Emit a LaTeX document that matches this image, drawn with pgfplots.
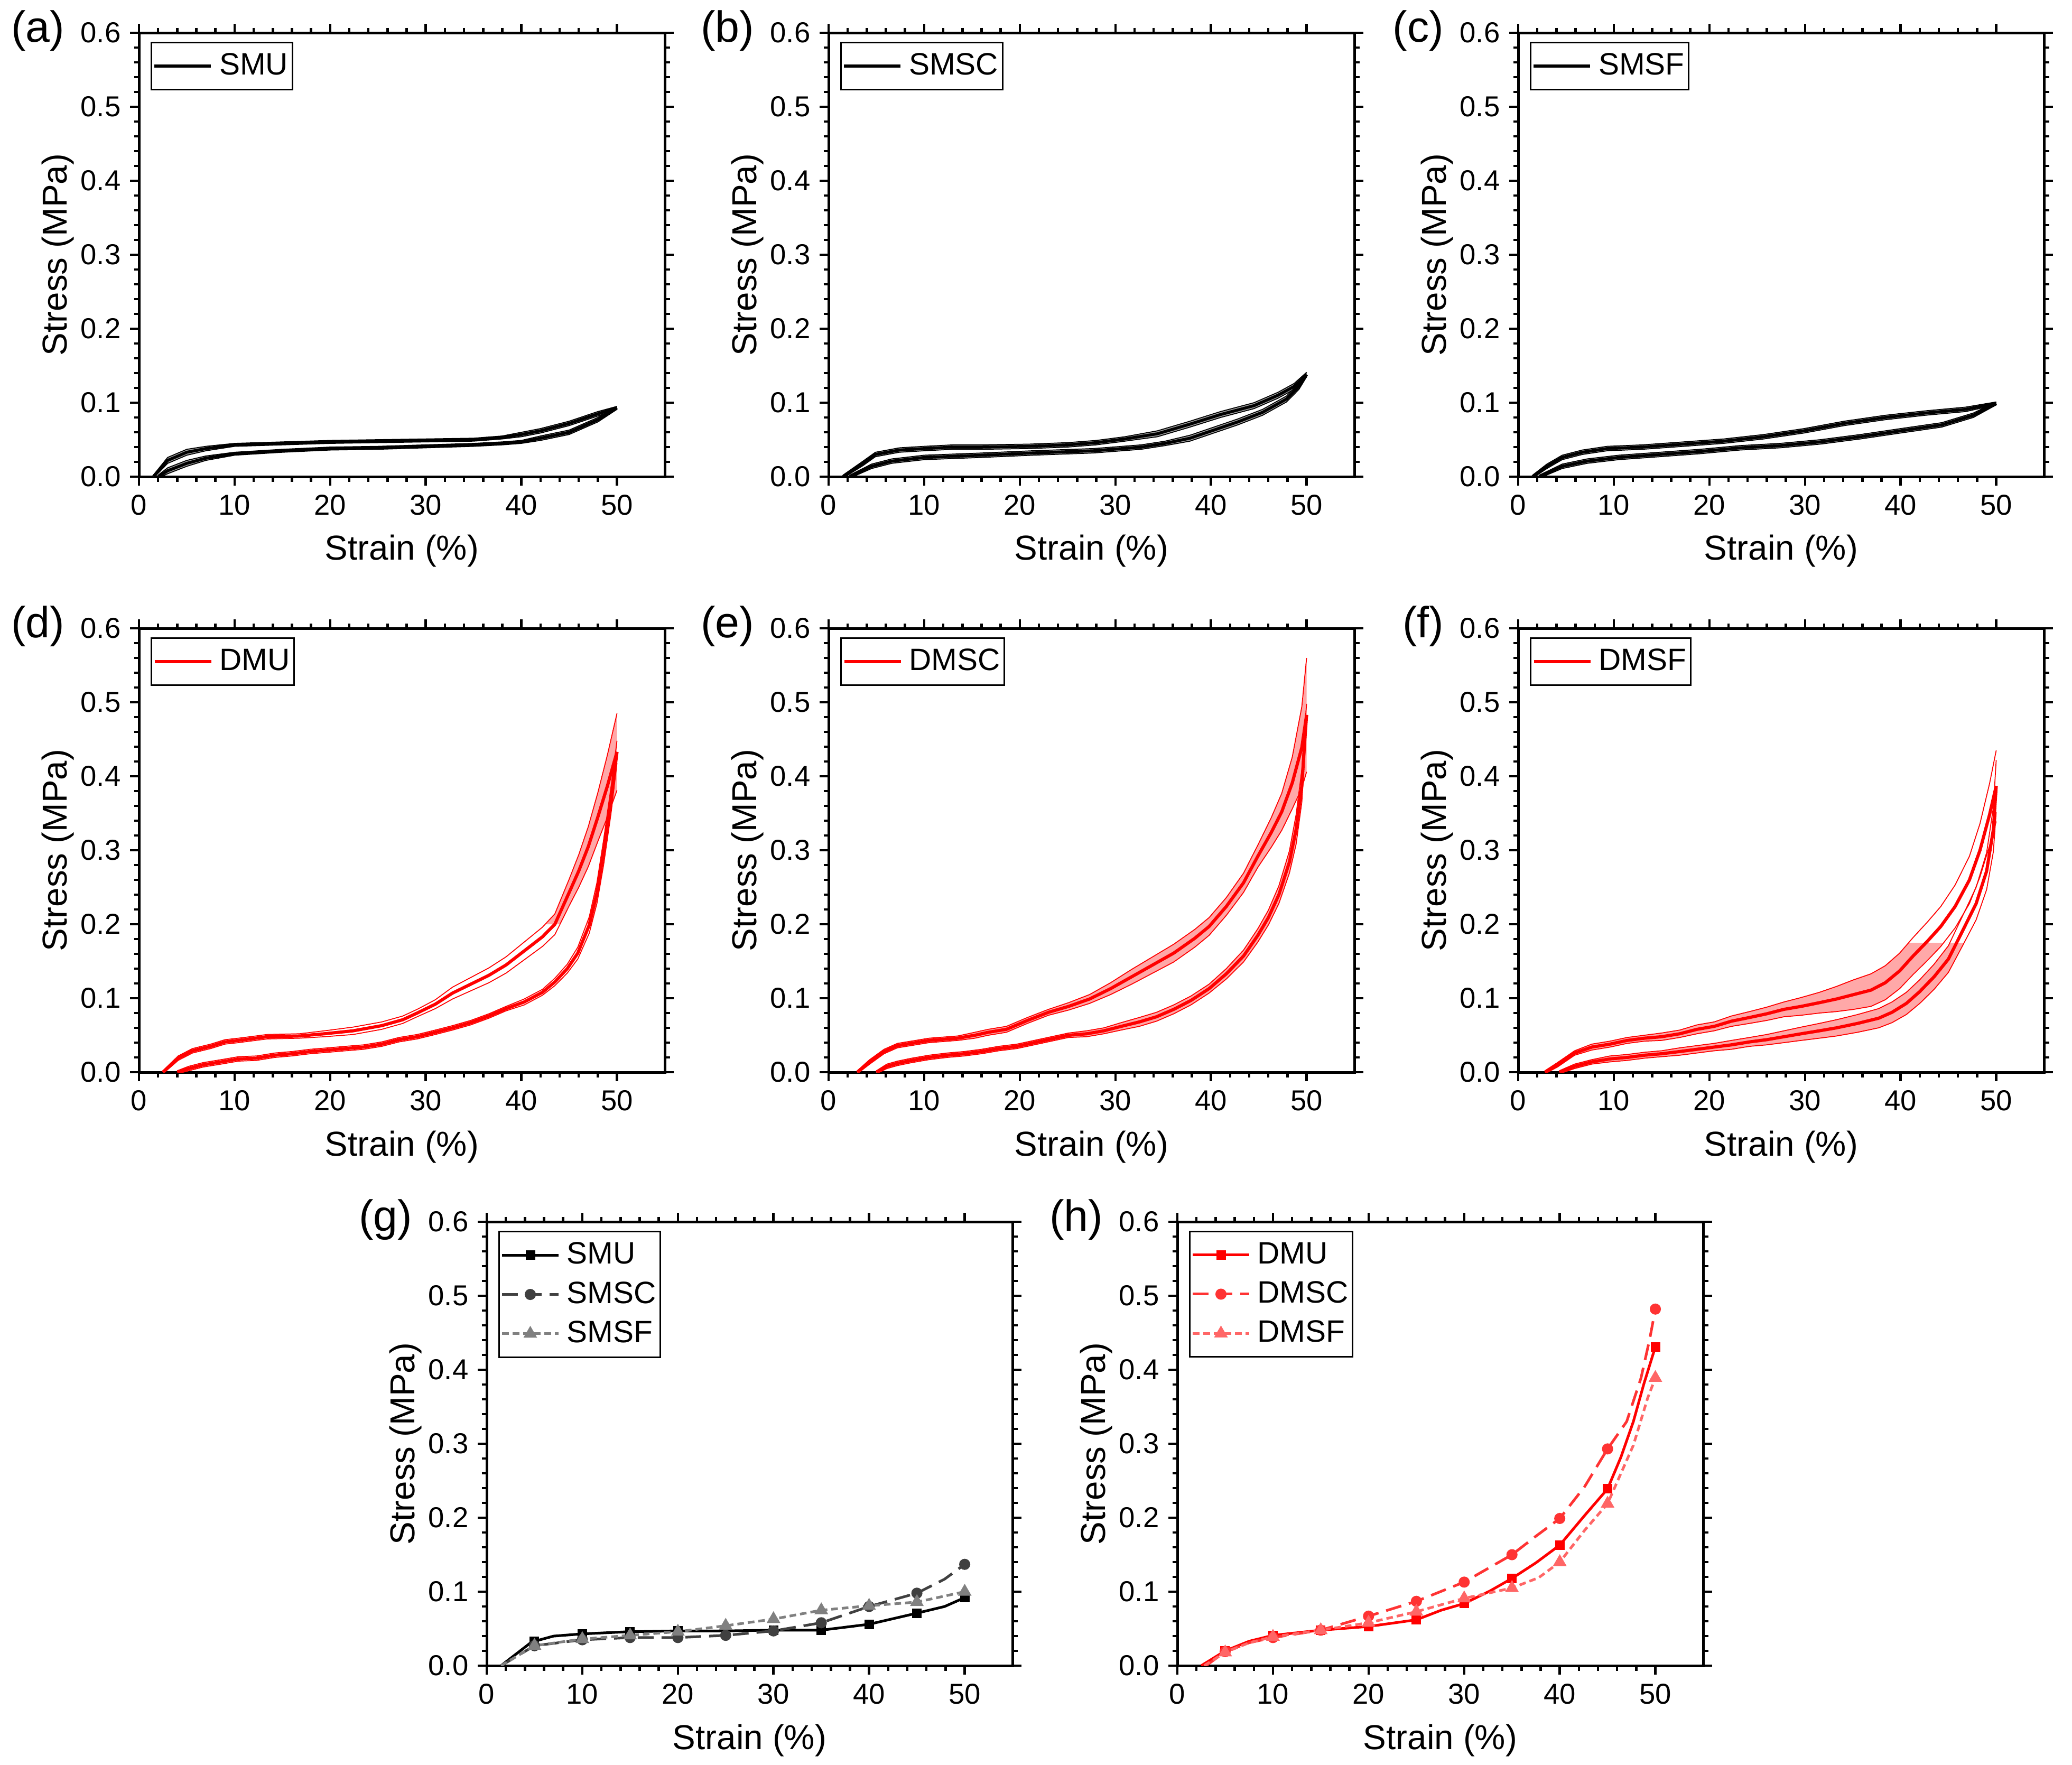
\documentclass[border=0pt]{standalone}
\usepackage{fontspec}
\setmainfont{Liberation Sans}
\usepackage{pgfplots}
\pgfplotsset{compat=1.18}
\usepackage{pgfplotstable}
\usepgfplotslibrary{fillbetween}

\definecolor{bandred}{RGB}{255,168,168}
\definecolor{bandgray}{RGB}{160,160,160}
\definecolor{scgray}{RGB}{64,64,64}
\definecolor{sfgray}{RGB}{128,128,128}
\definecolor{scred}{RGB}{255,51,51}
\definecolor{sfred}{RGB}{255,102,102}

% ---------------- data (x = strain %, m = mean stress MPa, s = band half-width) ----------
\pgfplotstableread{
x m s
1.5 0.000 0.002
3 0.022 0.004
5 0.033 0.004
7 0.038 0.003
10 0.043 0.002
15 0.045 0.002
20 0.047 0.002
25 0.048 0.002
30 0.049 0.002
35 0.050 0.002
38 0.053 0.002
40 0.057 0.003
42 0.062 0.003
45 0.072 0.003
48 0.085 0.003
50 0.093 0.002
}\aLoad
\pgfplotstableread{
x m s
2.0 0.000 0.002
3 0.008 0.004
5 0.018 0.004
7 0.025 0.003
10 0.031 0.002
15 0.035 0.002
20 0.038 0.002
25 0.039 0.002
30 0.041 0.002
35 0.043 0.002
38 0.045 0.002
40 0.047 0.002
42 0.052 0.003
45 0.060 0.003
48 0.077 0.003
50 0.093 0.002
}\aUnload
\pgfplotstableread{
x m s
1.5 0.000 0.002
3.6 0.018 0.003
4.9 0.030 0.003
7.4 0.036 0.003
10 0.038 0.003
13 0.040 0.003
16 0.040 0.003
21 0.041 0.003
25 0.043 0.003
28 0.046 0.003
31 0.051 0.003
34.4 0.058 0.004
37.8 0.071 0.004
41 0.084 0.004
44.5 0.096 0.004
47 0.110 0.004
48.7 0.122 0.004
50 0.138 0.003
}\bLoad
\pgfplotstableread{
x m s
2.2 0.000 0.002
4.5 0.014 0.003
6.6 0.021 0.003
10 0.026 0.003
16 0.029 0.003
21.3 0.032 0.003
27.7 0.035 0.003
32.7 0.040 0.003
35.2 0.045 0.003
37.8 0.052 0.004
40.3 0.063 0.004
42.8 0.074 0.004
45.4 0.087 0.004
47.9 0.105 0.004
49.2 0.122 0.004
50 0.138 0.003
}\bUnload
\pgfplotstableread{
x m s
1.5 0.000 0.002
3 0.014 0.003
4.6 0.026 0.003
6.7 0.033 0.003
9.3 0.038 0.003
13 0.040 0.003
17.3 0.044 0.003
21.5 0.048 0.003
25.7 0.054 0.003
29.9 0.062 0.003
34.1 0.072 0.003
38.4 0.080 0.003
42.6 0.086 0.003
46.8 0.091 0.003
50 0.099 0.002
}\cLoad
\pgfplotstableread{
x m s
2.2 0.000 0.002
4.6 0.014 0.003
7.2 0.021 0.003
10.5 0.026 0.003
14.8 0.030 0.003
19 0.034 0.003
23.2 0.039 0.003
27.4 0.042 0.003
31.6 0.047 0.003
35.8 0.054 0.003
40 0.062 0.003
44.3 0.070 0.003
47.6 0.083 0.003
50 0.099 0.002
}\cUnload
\pgfplotstableread{
x m s
2.5 0.000 0.002
4.1 0.019 0.003
5.6 0.029 0.003
7.5 0.035 0.003
9 0.041 0.003
10.4 0.043 0.003
13.4 0.048 0.003
16.8 0.049 0.003
19.4 0.052 0.004
22.4 0.056 0.005
25.4 0.063 0.005
27.6 0.071 0.005
29.1 0.080 0.005
31 0.092 0.006
32.8 0.107 0.008
34.7 0.119 0.009
36.6 0.131 0.010
38.4 0.145 0.011
40.3 0.164 0.012
42.2 0.183 0.013
43.5 0.200 0.014
45 0.243 0.018
46 0.272 0.022
47 0.305 0.027
48 0.345 0.033
49 0.387 0.042
50 0.433 0.052
}\dLoad
\pgfplotstableread{
x m s
4.0 0.000 0.002
5.2 0.005 0.003
6.7 0.010 0.003
8.6 0.014 0.003
10.4 0.018 0.003
12.3 0.019 0.003
14.2 0.023 0.003
16 0.025 0.003
17.9 0.028 0.003
19.8 0.030 0.003
21.6 0.032 0.003
23.5 0.034 0.003
25.4 0.038 0.003
27.2 0.044 0.003
29.1 0.048 0.003
31 0.054 0.003
32.8 0.060 0.003
34.7 0.067 0.003
36.6 0.076 0.003
38.4 0.086 0.003
40.3 0.095 0.004
42.2 0.108 0.004
43.5 0.122 0.005
44.8 0.140 0.006
45.9 0.161 0.008
47.1 0.199 0.011
47.9 0.242 0.014
48.6 0.297 0.017
49.4 0.370 0.018
50 0.433 0.015
}\dUnload
\pgfplotstableread{
x m s
3.0 0.000 0.002
4.3 0.014 0.003
5.8 0.028 0.003
7.2 0.036 0.003
9.1 0.040 0.003
10.5 0.043 0.003
13.5 0.046 0.003
15.3 0.050 0.004
16.7 0.054 0.004
18.6 0.058 0.004
20.8 0.070 0.004
23 0.081 0.004
25.1 0.089 0.005
27.3 0.099 0.006
29.5 0.113 0.008
31.7 0.129 0.010
33.9 0.145 0.011
36.1 0.161 0.012
38.3 0.181 0.012
39.8 0.197 0.012
41.6 0.224 0.012
43.4 0.256 0.013
44.9 0.292 0.015
46.3 0.324 0.020
47.4 0.352 0.025
48.5 0.391 0.035
49.5 0.439 0.055
50 0.483 0.077
}\eLoad
\pgfplotstableread{
x m s
5.0 0.000 0.002
6.1 0.008 0.003
7.2 0.012 0.003
8.7 0.016 0.003
10.5 0.020 0.003
12.4 0.023 0.003
14.2 0.025 0.003
16 0.028 0.003
17.8 0.032 0.003
19.7 0.035 0.003
21.5 0.040 0.003
23.3 0.045 0.003
25.1 0.050 0.003
27 0.052 0.004
28.8 0.056 0.004
30.6 0.062 0.005
32.5 0.068 0.006
34.3 0.075 0.006
36.1 0.085 0.006
37.9 0.097 0.006
39.8 0.113 0.006
41.6 0.133 0.007
43.4 0.157 0.008
44.9 0.185 0.009
46 0.209 0.010
47.1 0.240 0.012
48.2 0.284 0.015
48.9 0.328 0.020
49.5 0.387 0.022
49.8 0.447 0.020
50 0.483 0.015
}\eUnload
\pgfplotstableread{
x m s
2.8 0.000 0.002
4.1 0.010 0.003
5.9 0.026 0.003
7.7 0.034 0.004
9.6 0.038 0.004
11.4 0.043 0.004
13.2 0.046 0.004
15 0.048 0.005
16.9 0.052 0.005
18.7 0.058 0.006
20.5 0.062 0.006
22.3 0.069 0.007
24.2 0.074 0.008
26 0.079 0.009
27.8 0.085 0.010
29.6 0.089 0.012
31.5 0.094 0.014
33.3 0.099 0.017
35.1 0.105 0.020
36.9 0.111 0.022
38.4 0.121 0.023
39.9 0.137 0.024
41.3 0.157 0.025
42.8 0.177 0.026
44.2 0.197 0.027
45.7 0.224 0.029
47.2 0.260 0.032
48.3 0.300 0.036
49.3 0.348 0.042
50 0.387 0.048
}\fLoad
\pgfplotstableread{
x m s
4.3 0.000 0.002
5.9 0.008 0.003
7.7 0.014 0.003
9.6 0.018 0.004
11.4 0.020 0.004
13.2 0.023 0.004
15 0.025 0.004
16.9 0.028 0.005
18.7 0.031 0.005
20.5 0.034 0.005
22.3 0.037 0.006
24.2 0.041 0.006
26 0.044 0.007
27.8 0.048 0.008
29.6 0.052 0.009
31.5 0.056 0.010
33.3 0.060 0.011
35.5 0.066 0.012
37.7 0.073 0.013
39.1 0.081 0.014
40.6 0.093 0.015
42 0.109 0.016
43.5 0.129 0.017
45 0.153 0.018
46.4 0.189 0.020
47.9 0.228 0.022
49 0.272 0.025
49.7 0.328 0.030
50 0.387 0.035
}\fUnload

\pgfplotsset{
 panel/.style={
  scale only axis, width=199pt, height=168pt,
  xmin=0, xmax=55, ymin=0, ymax=0.6,
  xtick={0,10,20,30,40,50}, ytick={0,0.1,0.2,0.3,0.4,0.5,0.6},
  minor x tick num=4, minor y tick num=4,
  tick align=outside, major tick length=3.4pt, minor tick length=1.9pt,
  axis line style={line width=1pt},
  every tick/.append style={line width=0.9pt, black},
  tick label style={font=\fontsize{10.9}{13}\selectfont},
  /pgf/number format/assume math mode=true,
  yticklabel style={/pgf/number format/.cd, fixed, fixed zerofill, precision=1},
  xlabel={Strain (\%)}, ylabel={Stress (MPa)},
  every axis x label/.style={at={(axis description cs:0.5,0)}, anchor=center, yshift=-28.2pt,
     font=\fontsize{13.1}{15}\selectfont},
  every axis y label/.style={at={(axis description cs:0,0.5)}, anchor=center, xshift=-30.6pt, rotate=90,
     font=\fontsize{13.1}{15}\selectfont},
  legend style={at={(0,1)}, anchor=north west, xshift=4.4pt, yshift=-3.4pt,
     draw=black, line width=0.6pt, font=\fontsize{11.7}{13}\selectfont,
     inner xsep=0.6pt, inner ysep=0.7pt, nodes={inner xsep=1pt, inner ysep=3.4pt},
     /tikz/every odd column/.append style={column sep=1.6pt}},
  legend cell align=left,
  legend image code/.code={\draw[#1, mark indices={2}] plot coordinates {(0pt,0pt) (10.7pt,0pt) (21.4pt,0pt)};},
 }
}

% band: #1 table, #2 line colour, #3 fill colour, #4 extra fill-between options
\newcommand{\band}[4]{%
 \addplot[name path=U, draw=none, forget plot] table[x=x, y expr=\thisrow{m}+\thisrow{s}] {#1};
 \addplot[name path=L, draw=none, forget plot] table[x=x, y expr=\thisrow{m}-\thisrow{s}] {#1};
 \addplot[fill=#3, draw=none, forget plot] fill between[of=U and L, #4];
 \addplot[#2, line width=0.35pt, forget plot] table[x=x, y expr=\thisrow{m}+\thisrow{s}] {#1};
 \addplot[#2, line width=0.35pt, forget plot] table[x=x, y expr=\thisrow{m}-\thisrow{s}] {#1};
}

\newcommand{\plabel}[2]{\node[anchor=east, font=\fontsize{16.5}{18}\selectfont, inner sep=0pt] at ([xshift=-28pt, yshift=0.8pt]#1.north west) {#2};}

\begin{document}
\begin{tikzpicture}

% ---------------- (a) ----------------
\begin{axis}[panel, at={(52.6pt,-12.4pt)}, anchor=north west, name=a]
\band{\aLoad}{black}{bandgray}{}
\band{\aUnload}{black}{bandgray}{}
\addplot[black, line width=1.1pt] table[x=x, y=m] {\aLoad};
\addlegendentry{SMU}
\addplot[black, line width=1.1pt, forget plot] table[x=x, y=m] {\aUnload};
\end{axis}

% ---------------- (b) ----------------
\begin{axis}[panel, at={(313.6pt,-12.4pt)}, anchor=north west, name=b]
\band{\bLoad}{black}{bandgray}{}
\band{\bUnload}{black}{bandgray}{}
\addplot[black, line width=1.1pt] table[x=x, y=m] {\bLoad};
\addlegendentry{SMSC}
\addplot[black, line width=1.1pt, forget plot] table[x=x, y=m] {\bUnload};
\end{axis}

% ---------------- (c) ----------------
\begin{axis}[panel, at={(574.6pt,-12.4pt)}, anchor=north west, name=c]
\band{\cLoad}{black}{bandgray}{}
\band{\cUnload}{black}{bandgray}{}
\addplot[black, line width=1.1pt] table[x=x, y=m] {\cLoad};
\addlegendentry{SMSF}
\addplot[black, line width=1.1pt, forget plot] table[x=x, y=m] {\cUnload};
\end{axis}

% ---------------- (d) ----------------
\begin{axis}[panel, at={(52.6pt,-237.8pt)}, anchor=north west, name=d]
\band{\dLoad}{red}{bandred}{soft clip={(axis cs:0,0.2) rectangle (axis cs:55,0.6)}}
\band{\dUnload}{red}{bandred}{soft clip={(axis cs:0,0.2) rectangle (axis cs:55,0.6)}}
\addplot[red, line width=1.2pt] table[x=x, y=m] {\dLoad};
\addlegendentry{DMU}
\addplot[red, line width=1.2pt, forget plot] table[x=x, y=m] {\dUnload};
\end{axis}

% ---------------- (e) ----------------
\begin{axis}[panel, at={(313.6pt,-237.8pt)}, anchor=north west, name=e]
\band{\eLoad}{red}{bandred}{}
\band{\eUnload}{red}{bandred}{}
\addplot[red, line width=1.2pt] table[x=x, y=m] {\eLoad};
\addlegendentry{DMSC}
\addplot[red, line width=1.2pt, forget plot] table[x=x, y=m] {\eUnload};
\end{axis}

% ---------------- (f) ----------------
\begin{axis}[panel, at={(574.6pt,-237.8pt)}, anchor=north west, name=f]
\band{\fLoad}{red}{bandred}{soft clip={(axis cs:0,0) rectangle (axis cs:55,0.175)}}
\band{\fUnload}{red}{bandred}{soft clip={(axis cs:0,0) rectangle (axis cs:55,0.175)}}
\addplot[red, line width=1.2pt] table[x=x, y=m] {\fLoad};
\addlegendentry{DMSF}
\addplot[red, line width=1.2pt, forget plot] table[x=x, y=m] {\fUnload};
\end{axis}

% ---------------- (g) ----------------
\begin{axis}[panel, at={(184.2pt,-462.4pt)}, anchor=north west, name=g, legend style={row sep=-1.6pt}]
\addplot[black, line width=1pt, mark=square*, mark size=1.3pt, mark indices={3,5,6,7,8,9,10,11,12,14}]
 coordinates {(1.5,0) (4.5,0.030) (5,0.033) (7,0.040) (10,0.043) (15,0.046) (20,0.047) (25,0.047) (30,0.048) (35,0.048) (40,0.056) (45,0.071) (47.9,0.080) (50,0.092)};
\addlegendentry{SMU}
\addplot[scgray, line width=1pt, dash pattern=on 6pt off 3pt, mark=*, mark size=1.6pt, mark options={solid}, mark indices={2,3,4,5,6,7,8,9,10,12}]
 coordinates {(1.5,0) (5,0.027) (10,0.035) (15,0.038) (20,0.038) (25,0.041) (30,0.047) (35,0.058) (40,0.080) (45,0.098) (47.9,0.117) (50,0.137)};
\addlegendentry{SMSC}
\addplot[sfgray, line width=1pt, dash pattern=on 2.5pt off 1.5pt, mark=triangle*, mark size=2pt, mark options={solid}, mark indices={2,3,4,5,6,7,8,9,10,11}]
 coordinates {(1.5,0) (5,0.027) (10,0.036) (15,0.041) (20,0.046) (25,0.054) (30,0.063) (35,0.075) (40,0.081) (45,0.086) (50,0.100)};
\addlegendentry{SMSF}
\end{axis}

% ---------------- (h) ----------------
\begin{axis}[panel, at={(445.6pt,-462.4pt)}, anchor=north west, name=h, legend style={row sep=-1.6pt}]
\addplot[red, line width=1pt, mark=square*, mark size=1.3pt, mark indices={2,4,5,6,7,9,11,13,15,19}]
 coordinates {(2.5,0) (5,0.020) (7.5,0.033) (10,0.041) (15,0.048) (20,0.053) (25,0.062) (27.6,0.075) (30,0.084) (32.7,0.101) (35,0.118) (37.5,0.139) (40,0.163) (42.6,0.203) (45,0.239) (46.4,0.282) (47.7,0.330) (48.8,0.381) (50,0.431)};
\addlegendentry{DMU}
\addplot[scred, line width=1pt, dash pattern=on 6pt off 3pt, mark=*, mark size=1.6pt, mark options={solid}, mark indices={2,4,5,6,7,8,9,11,13,17}]
 coordinates {(3,0) (5,0.019) (7.5,0.031) (10,0.038) (15,0.048) (20,0.067) (25,0.087) (30,0.113) (35,0.150) (37.5,0.175) (40,0.199) (42.6,0.242) (45,0.293) (47,0.330) (48.5,0.389) (49.4,0.441) (50,0.482)};
\addlegendentry{DMSC}
\addplot[sfred, line width=1pt, dash pattern=on 2.5pt off 1.5pt, mark=triangle*, mark size=2pt, mark options={solid}, mark indices={2,4,5,6,7,8,9,11,13,16}]
 coordinates {(2.8,0) (5,0.018) (7.5,0.031) (10,0.039) (15,0.048) (20,0.058) (25,0.073) (30,0.091) (35,0.105) (37.8,0.119) (40,0.140) (42.6,0.183) (45,0.219) (47.7,0.298) (49.2,0.362) (50,0.389)};
\addlegendentry{DMSF}
\end{axis}

\plabel{a}{(a)}
\plabel{b}{(b)}
\plabel{c}{(c)}
\plabel{d}{(d)}
\plabel{e}{(e)}
\plabel{f}{(f)}
\plabel{g}{(g)}
\plabel{h}{(h)}

\pgfresetboundingbox
\path[use as bounding box] (0,0) rectangle (784.2pt,-667.8pt);
\end{tikzpicture}
\end{document}
